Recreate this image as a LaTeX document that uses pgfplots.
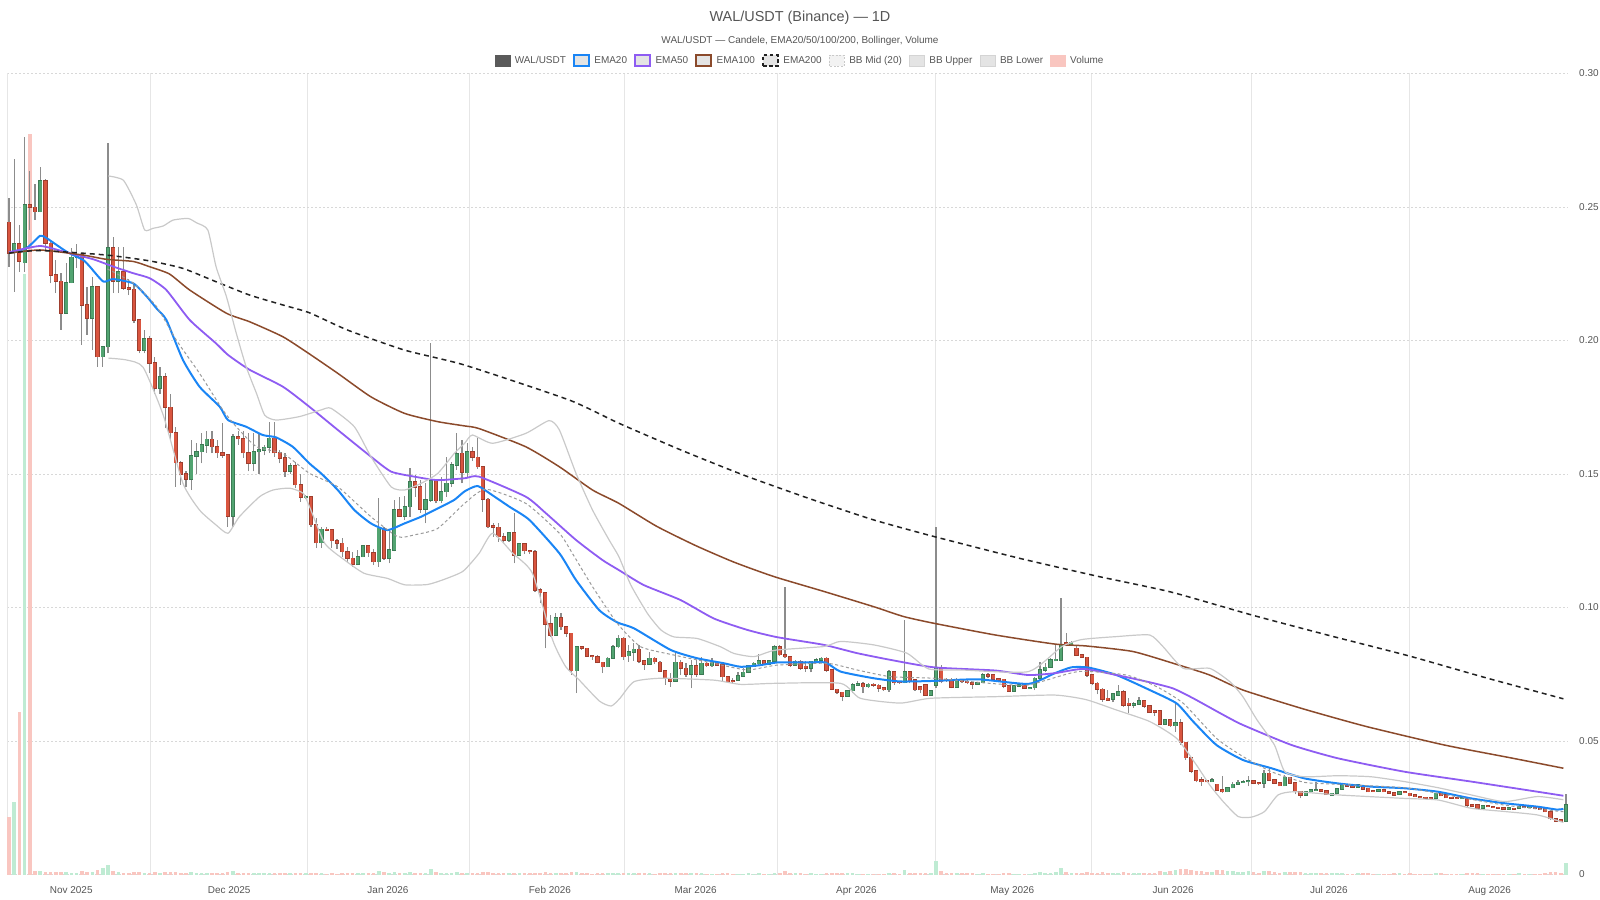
\documentclass[border=0pt]{standalone}
\usepackage{fontspec}
\setmainfont{Liberation Sans}
\usepackage{pgfplots}
\usepackage{pgfplotstable}
\pgfplotsset{compat=1.18}
\definecolor{upg}{HTML}{52A471}
\definecolor{upgd}{HTML}{3C7A54}
\definecolor{dnr}{HTML}{D9553F}
\definecolor{dnrd}{HTML}{9E3E2E}
\definecolor{wick}{HTML}{8C8C8C}
\definecolor{ema20c}{HTML}{1A85F5}
\definecolor{ema50c}{HTML}{8E5CF2}
\definecolor{ema100c}{HTML}{8B4A2B}
\definecolor{ema200c}{HTML}{222222}
\definecolor{bbmid}{HTML}{9A9A9A}
\definecolor{bbc}{HTML}{C9C9C9}
\definecolor{txt}{HTML}{555555}
\definecolor{volr}{HTML}{F9C6C0}
\definecolor{volg}{HTML}{BFEBD3}
\definecolor{gridv}{HTML}{E6E6E6}
\definecolor{gridh}{HTML}{D8D8D8}
\definecolor{legfill}{HTML}{E4E4E4}
\definecolor{legdark}{HTML}{5A5A5A}

\pgfplotstableread{
i o h l c v
0 0.2442 0.2533 0.2277 0.2327 0.0217
1 0.2329 0.2679 0.2183 0.2362 0.0270
2 0.2362 0.2433 0.2258 0.2296 0.0607
3 0.2292 0.2764 0.2258 0.2508 0.2250
4 0.2508 0.2633 0.2414 0.2499 0.2775
5 0.2499 0.2586 0.2452 0.2483 0.0012
6 0.2483 0.2648 0.2480 0.2599 0.0014
7 0.2599 0.2605 0.2339 0.2364 0.0010
8 0.2364 0.2370 0.2214 0.2246 0.0009
9 0.2246 0.2302 0.2177 0.2223 0.0008
10 0.2221 0.2252 0.2040 0.2102 0.0011
11 0.2102 0.2289 0.2100 0.2217 0.0008
12 0.2217 0.2346 0.2214 0.2311 0.0007
13 0.2311 0.2362 0.2271 0.2321 0.0007
14 0.2321 0.2327 0.1984 0.2133 0.0013
15 0.2133 0.2202 0.2021 0.2083 0.0009
16 0.2083 0.2239 0.1965 0.2202 0.0010
17 0.2202 0.2205 0.1902 0.1940 0.0015
18 0.1940 0.1980 0.1902 0.1977 0.0024
19 0.1977 0.2739 0.1952 0.2346 0.0034
20 0.2346 0.2389 0.2177 0.2221 0.0012
21 0.2221 0.2352 0.2177 0.2258 0.0008
22 0.2258 0.2352 0.2190 0.2196 0.0007
23 0.2196 0.2230 0.2170 0.2192 0.0006
24 0.2192 0.2214 0.2065 0.2077 0.0008
25 0.2077 0.2080 0.1952 0.1965 0.0009
26 0.1965 0.2040 0.1952 0.2006 0.0006
27 0.2006 0.2015 0.1877 0.1915 0.0007
28 0.1915 0.1940 0.1800 0.1821 0.0008
29 0.1821 0.1900 0.1800 0.1865 0.0006
30 0.1865 0.1877 0.1671 0.1750 0.0009
31 0.1750 0.1800 0.1627 0.1655 0.0008
32 0.1655 0.1677 0.1453 0.1543 0.0011
33 0.1543 0.1550 0.1459 0.1500 0.0007
34 0.1500 0.1510 0.1450 0.1480 0.0006
35 0.1480 0.1627 0.1440 0.1568 0.0008
36 0.1568 0.1615 0.1500 0.1584 0.0006
37 0.1584 0.1652 0.1540 0.1609 0.0005
38 0.1609 0.1660 0.1580 0.1630 0.0005
39 0.1630 0.1660 0.1578 0.1602 0.0005
40 0.1602 0.1627 0.1560 0.1580 0.0005
41 0.1580 0.1690 0.1560 0.1571 0.0006
42 0.1571 0.1575 0.1303 0.1343 0.0010
43 0.1343 0.1650 0.1303 0.1640 0.0012
44 0.1640 0.1660 0.1610 0.1632 0.0006
45 0.1632 0.1660 0.1560 0.1580 0.0005
46 0.1580 0.1652 0.1510 0.1540 0.0006
47 0.1540 0.1652 0.1510 0.1584 0.0005
48 0.1584 0.1652 0.1500 0.1590 0.0004
49 0.1590 0.1610 0.1570 0.1600 0.0004
50 0.1600 0.1696 0.1580 0.1634 0.0005
51 0.1634 0.1696 0.1565 0.1580 0.0005
52 0.1580 0.1590 0.1540 0.1560 0.0004
53 0.1560 0.1580 0.1490 0.1510 0.0005
54 0.1510 0.1540 0.1500 0.1530 0.0004
55 0.1530 0.1545 0.1446 0.1460 0.0005
56 0.1460 0.1500 0.1396 0.1413 0.0006
57 0.1413 0.1420 0.1405 0.1415 0.0004
58 0.1415 0.1418 0.1303 0.1310 0.0006
59 0.1310 0.1334 0.1222 0.1243 0.0006
60 0.1243 0.1303 0.1222 0.1293 0.0004
61 0.1293 0.1300 0.1285 0.1290 0.0003
62 0.1290 0.1295 0.1222 0.1250 0.0004
63 0.1250 0.1255 0.1220 0.1240 0.0003
64 0.1240 0.1259 0.1190 0.1209 0.0004
65 0.1209 0.1228 0.1165 0.1184 0.0004
66 0.1184 0.1209 0.1153 0.1163 0.0004
67 0.1163 0.1215 0.1159 0.1190 0.0004
68 0.1190 0.1234 0.1188 0.1230 0.0005
69 0.1230 0.1234 0.1190 0.1205 0.0004
70 0.1205 0.1220 0.1159 0.1172 0.0004
71 0.1172 0.1410 0.1153 0.1296 0.0013
72 0.1296 0.1303 0.1178 0.1184 0.0008
73 0.1184 0.1290 0.1165 0.1215 0.0005
74 0.1215 0.1403 0.1210 0.1365 0.0009
75 0.1365 0.1415 0.1340 0.1343 0.0006
76 0.1343 0.1418 0.1328 0.1378 0.0006
77 0.1378 0.1521 0.1340 0.1470 0.0008
78 0.1470 0.1496 0.1415 0.1452 0.0005
79 0.1452 0.1477 0.1353 0.1368 0.0006
80 0.1368 0.1465 0.1315 0.1403 0.0005
81 0.1403 0.1989 0.1396 0.1475 0.0019
82 0.1475 0.1483 0.1390 0.1400 0.0008
83 0.1400 0.1490 0.1390 0.1434 0.0005
84 0.1434 0.1565 0.1415 0.1465 0.0006
85 0.1465 0.1546 0.1452 0.1534 0.0006
86 0.1534 0.1655 0.1515 0.1575 0.0008
87 0.1577 0.1627 0.1465 0.1507 0.0006
88 0.1505 0.1615 0.1484 0.1584 0.0005
89 0.1584 0.1602 0.1550 0.1562 0.0004
90 0.1562 0.1633 0.1520 0.1527 0.0005
91 0.1527 0.1530 0.1359 0.1405 0.0008
92 0.1405 0.1409 0.1297 0.1303 0.0008
93 0.1305 0.1315 0.1265 0.1300 0.0005
94 0.1300 0.1315 0.1247 0.1265 0.0005
95 0.1265 0.1278 0.1240 0.1253 0.0004
96 0.1253 0.1284 0.1247 0.1280 0.0004
97 0.1280 0.1353 0.1165 0.1197 0.0007
98 0.1197 0.1243 0.1197 0.1238 0.0005
99 0.1238 0.1240 0.1200 0.1213 0.0004
100 0.1213 0.1215 0.1200 0.1209 0.0004
101 0.1209 0.1215 0.1059 0.1066 0.0007
102 0.1066 0.1072 0.1016 0.1056 0.0006
103 0.1056 0.1059 0.0847 0.0938 0.0010
104 0.0938 0.0972 0.0890 0.0897 0.0006
105 0.0897 0.0978 0.0897 0.0960 0.0006
106 0.0960 0.0978 0.0916 0.0928 0.0005
107 0.0928 0.0930 0.0890 0.0903 0.0004
108 0.0903 0.0905 0.0748 0.0764 0.0008
109 0.0764 0.0856 0.0679 0.0853 0.0009
110 0.0853 0.0856 0.0841 0.0847 0.0005
111 0.0847 0.0850 0.0814 0.0819 0.0004
112 0.0819 0.0822 0.0804 0.0816 0.0003
113 0.0816 0.0822 0.0791 0.0794 0.0004
114 0.0794 0.0796 0.0754 0.0779 0.0004
115 0.0779 0.0816 0.0779 0.0810 0.0004
116 0.0810 0.0860 0.0808 0.0853 0.0005
117 0.0853 0.0897 0.0847 0.0885 0.0005
118 0.0884 0.0890 0.0803 0.0816 0.0005
119 0.0820 0.0860 0.0797 0.0834 0.0004
120 0.0834 0.0866 0.0800 0.0843 0.0004
121 0.0843 0.0860 0.0791 0.0800 0.0004
122 0.0800 0.0803 0.0766 0.0787 0.0004
123 0.0787 0.0834 0.0785 0.0810 0.0004
124 0.0810 0.0815 0.0790 0.0797 0.0003
125 0.0795 0.0798 0.0757 0.0762 0.0004
126 0.0762 0.0765 0.0710 0.0735 0.0005
127 0.0735 0.0753 0.0703 0.0725 0.0004
128 0.0725 0.0828 0.0722 0.0795 0.0006
129 0.0795 0.0803 0.0747 0.0772 0.0004
130 0.0772 0.0791 0.0741 0.0750 0.0004
131 0.0750 0.0803 0.0697 0.0782 0.0005
132 0.0782 0.0803 0.0741 0.0750 0.0004
133 0.0750 0.0816 0.0748 0.0791 0.0004
134 0.0791 0.0797 0.0778 0.0782 0.0003
135 0.0782 0.0810 0.0779 0.0795 0.0003
136 0.0795 0.0800 0.0780 0.0784 0.0003
137 0.0784 0.0787 0.0722 0.0741 0.0005
138 0.0741 0.0745 0.0719 0.0722 0.0004
139 0.0725 0.0735 0.0716 0.0722 0.0003
140 0.0728 0.0760 0.0725 0.0744 0.0003
141 0.0744 0.0772 0.0740 0.0757 0.0003
142 0.0757 0.0784 0.0753 0.0781 0.0004
143 0.0781 0.0797 0.0778 0.0791 0.0003
144 0.0790 0.0824 0.0784 0.0801 0.0004
145 0.0800 0.0803 0.0785 0.0788 0.0003
146 0.0788 0.0802 0.0785 0.0799 0.0003
147 0.0799 0.0859 0.0790 0.0853 0.0006
148 0.0853 0.0858 0.0818 0.0823 0.0005
149 0.0823 0.1078 0.0810 0.0816 0.0013
150 0.0816 0.0820 0.0779 0.0785 0.0006
151 0.0785 0.0804 0.0780 0.0798 0.0004
152 0.0798 0.0804 0.0766 0.0773 0.0004
153 0.0780 0.0798 0.0760 0.0773 0.0003
154 0.0773 0.0800 0.0757 0.0798 0.0004
155 0.0798 0.0810 0.0795 0.0804 0.0003
156 0.0804 0.0816 0.0800 0.0810 0.0003
157 0.0810 0.0815 0.0760 0.0766 0.0004
158 0.0766 0.0768 0.0691 0.0694 0.0007
159 0.0694 0.0696 0.0676 0.0682 0.0005
160 0.0682 0.0685 0.0648 0.0669 0.0005
161 0.0669 0.0691 0.0667 0.0689 0.0004
162 0.0689 0.0716 0.0679 0.0710 0.0004
163 0.0710 0.0723 0.0707 0.0714 0.0003
164 0.0714 0.0720 0.0679 0.0704 0.0003
165 0.0704 0.0716 0.0700 0.0712 0.0003
166 0.0712 0.0716 0.0703 0.0708 0.0003
167 0.0708 0.0712 0.0685 0.0698 0.0003
168 0.0698 0.0700 0.0688 0.0692 0.0003
169 0.0692 0.0766 0.0685 0.0760 0.0006
170 0.0760 0.0762 0.0710 0.0719 0.0005
171 0.0722 0.0725 0.0715 0.0719 0.0003
172 0.0719 0.0954 0.0716 0.0760 0.0018
173 0.0760 0.0762 0.0716 0.0723 0.0006
174 0.0729 0.0731 0.0689 0.0692 0.0004
175 0.0704 0.0707 0.0679 0.0692 0.0004
176 0.0710 0.0712 0.0669 0.0673 0.0004
177 0.0673 0.0692 0.0670 0.0689 0.0004
178 0.0710 0.1300 0.0700 0.0776 0.0050
179 0.0776 0.0785 0.0716 0.0722 0.0012
180 0.0731 0.0735 0.0722 0.0726 0.0007
181 0.0731 0.0735 0.0697 0.0701 0.0006
182 0.0701 0.0735 0.0699 0.0731 0.0004
183 0.0731 0.0734 0.0718 0.0722 0.0004
184 0.0722 0.0729 0.0713 0.0719 0.0004
185 0.0719 0.0722 0.0694 0.0714 0.0004
186 0.0714 0.0722 0.0710 0.0719 0.0003
187 0.0719 0.0754 0.0717 0.0747 0.0004
188 0.0747 0.0756 0.0735 0.0744 0.0003
189 0.0747 0.0750 0.0729 0.0732 0.0003
190 0.0732 0.0735 0.0725 0.0729 0.0003
191 0.0731 0.0733 0.0697 0.0706 0.0004
192 0.0706 0.0708 0.0685 0.0687 0.0004
193 0.0687 0.0708 0.0685 0.0706 0.0003
194 0.0706 0.0712 0.0703 0.0710 0.0003
195 0.0710 0.0712 0.0694 0.0697 0.0003
196 0.0697 0.0703 0.0694 0.0700 0.0003
197 0.0700 0.0741 0.0691 0.0735 0.0006
198 0.0735 0.0797 0.0729 0.0766 0.0008
199 0.0766 0.0791 0.0760 0.0776 0.0006
200 0.0776 0.0810 0.0774 0.0803 0.0007
201 0.0801 0.0859 0.0798 0.0806 0.0008
202 0.0803 0.1034 0.0801 0.0859 0.0025
203 0.0868 0.0903 0.0855 0.0859 0.0010
204 0.0859 0.0875 0.0855 0.0868 0.0006
205 0.0847 0.0859 0.0818 0.0822 0.0007
206 0.0822 0.0825 0.0810 0.0813 0.0005
207 0.0813 0.0815 0.0740 0.0747 0.0009
208 0.0747 0.0750 0.0708 0.0716 0.0007
209 0.0716 0.0722 0.0675 0.0694 0.0006
210 0.0694 0.0697 0.0647 0.0657 0.0008
211 0.0660 0.0691 0.0650 0.0654 0.0005
212 0.0657 0.0679 0.0645 0.0676 0.0005
213 0.0672 0.0710 0.0670 0.0685 0.0006
214 0.0685 0.0690 0.0629 0.0633 0.0008
215 0.0641 0.0662 0.0604 0.0635 0.0007
216 0.0635 0.0645 0.0625 0.0639 0.0005
217 0.0639 0.0666 0.0636 0.0650 0.0005
218 0.0650 0.0653 0.0625 0.0631 0.0006
219 0.0631 0.0634 0.0604 0.0607 0.0007
220 0.0612 0.0615 0.0595 0.0607 0.0006
221 0.0612 0.0615 0.0560 0.0563 0.0012
222 0.0563 0.0583 0.0561 0.0579 0.0010
223 0.0579 0.0583 0.0554 0.0558 0.0012
224 0.0558 0.0641 0.0535 0.0567 0.0018
225 0.0567 0.0583 0.0485 0.0495 0.0022
226 0.0495 0.0497 0.0429 0.0438 0.0020
227 0.0438 0.0440 0.0379 0.0388 0.0016
228 0.0388 0.0390 0.0345 0.0352 0.0014
229 0.0355 0.0367 0.0333 0.0348 0.0012
230 0.0352 0.0355 0.0345 0.0348 0.0009
231 0.0348 0.0363 0.0345 0.0354 0.0010
232 0.0338 0.0340 0.0314 0.0317 0.0015
233 0.0317 0.0370 0.0305 0.0310 0.0018
234 0.0310 0.0327 0.0308 0.0325 0.0012
235 0.0325 0.0348 0.0323 0.0338 0.0014
236 0.0338 0.0354 0.0336 0.0345 0.0011
237 0.0345 0.0355 0.0343 0.0348 0.0010
238 0.0348 0.0370 0.0330 0.0350 0.0013
239 0.0350 0.0355 0.0338 0.0342 0.0008
240 0.0342 0.0345 0.0335 0.0340 0.0007
241 0.0342 0.0391 0.0323 0.0379 0.0014
242 0.0379 0.0398 0.0350 0.0354 0.0013
243 0.0354 0.0356 0.0340 0.0342 0.0008
244 0.0342 0.0344 0.0330 0.0333 0.0007
245 0.0333 0.0373 0.0330 0.0364 0.0010
246 0.0364 0.0366 0.0340 0.0342 0.0008
247 0.0342 0.0344 0.0300 0.0310 0.0011
248 0.0310 0.0312 0.0285 0.0298 0.0008
249 0.0298 0.0312 0.0296 0.0310 0.0006
250 0.0310 0.0319 0.0308 0.0317 0.0005
251 0.0317 0.0345 0.0315 0.0318 0.0006
252 0.0316 0.0318 0.0311 0.0313 0.0004
253 0.0313 0.0314 0.0298 0.0300 0.0005
254 0.0296 0.0306 0.0294 0.0304 0.0004
255 0.0304 0.0322 0.0302 0.0320 0.0005
256 0.0320 0.0337 0.0318 0.0335 0.0005
257 0.0334 0.0336 0.0329 0.0331 0.0003
258 0.0331 0.0333 0.0326 0.0328 0.0003
259 0.0326 0.0337 0.0324 0.0335 0.0004
260 0.0329 0.0331 0.0318 0.0320 0.0004
261 0.0323 0.0325 0.0308 0.0310 0.0005
262 0.0314 0.0316 0.0311 0.0313 0.0003
263 0.0313 0.0318 0.0311 0.0316 0.0003
264 0.0316 0.0318 0.0308 0.0310 0.0003
265 0.0310 0.0312 0.0303 0.0305 0.0003
266 0.0305 0.0307 0.0296 0.0298 0.0004
267 0.0301 0.0312 0.0299 0.0310 0.0004
268 0.0310 0.0312 0.0304 0.0306 0.0003
269 0.0304 0.0306 0.0293 0.0295 0.0004
270 0.0298 0.0300 0.0290 0.0292 0.0003
271 0.0291 0.0293 0.0286 0.0288 0.0003
272 0.0289 0.0291 0.0283 0.0285 0.0003
273 0.0287 0.0289 0.0281 0.0283 0.0003
274 0.0285 0.0306 0.0283 0.0304 0.0005
275 0.0304 0.0306 0.0293 0.0295 0.0004
276 0.0298 0.0300 0.0286 0.0288 0.0003
277 0.0289 0.0291 0.0285 0.0287 0.0003
278 0.0287 0.0289 0.0284 0.0286 0.0003
279 0.0285 0.0289 0.0283 0.0287 0.0003
280 0.0287 0.0290 0.0254 0.0260 0.0006
281 0.0260 0.0262 0.0254 0.0256 0.0004
282 0.0260 0.0262 0.0246 0.0248 0.0004
283 0.0248 0.0259 0.0246 0.0257 0.0003
284 0.0257 0.0259 0.0252 0.0254 0.0003
285 0.0254 0.0256 0.0250 0.0252 0.0003
286 0.0252 0.0254 0.0246 0.0248 0.0003
287 0.0249 0.0251 0.0243 0.0245 0.0003
288 0.0246 0.0251 0.0244 0.0249 0.0003
289 0.0248 0.0250 0.0242 0.0244 0.0003
290 0.0248 0.0256 0.0246 0.0254 0.0004
291 0.0254 0.0256 0.0249 0.0251 0.0003
292 0.0251 0.0255 0.0249 0.0253 0.0003
293 0.0253 0.0255 0.0246 0.0248 0.0003
294 0.0248 0.0250 0.0243 0.0245 0.0003
295 0.0248 0.0250 0.0233 0.0235 0.0006
296 0.0235 0.0237 0.0204 0.0210 0.0009
297 0.0208 0.0210 0.0198 0.0200 0.0008
298 0.0204 0.0206 0.0195 0.0201 0.0007
299 0.0201 0.0300 0.0196 0.0260 0.0042
}\candles

\pgfplotstableread{
x y
0 0.2330
3.4 0.2346
6 0.2392
7.3 0.2383
11.1 0.2333
14.3 0.2302
15.6 0.2277
18.2 0.2221
20.1 0.2230
24 0.2214
26.6 0.2165
28.5 0.2120
30.4 0.2077
33.6 0.1927
36.8 0.1827
40.7 0.1752
42.3 0.1702
45.8 0.1677
49 0.1646
51.6 0.1637
54.8 0.1602
58 0.1540
60.3 0.1502
63.5 0.1440
66.7 0.1365
69.9 0.1315
73.1 0.1290
76.4 0.1315
79.6 0.1340
82.8 0.1371
86 0.1403
88 0.1435
90.5 0.1455
93.4 0.1420
96.6 0.1378
100.5 0.1328
106.3 0.1203
109.5 0.1103
114 0.0990
117.5 0.0944
120.7 0.0922
127.8 0.0841
132.9 0.0810
138.1 0.0791
141.3 0.0778
145.1 0.0784
148.3 0.0794
154.1 0.0794
157.7 0.0794
160.6 0.0760
167 0.0735
172.1 0.0723
178.6 0.0725
187.2 0.0731
196.9 0.0714
202 0.0754
205.2 0.0776
208.5 0.0775
213.9 0.0747
220.3 0.0691
225.5 0.0641
228.7 0.0573
233.2 0.0485
238.3 0.0429
243.8 0.0398
250.2 0.0360
256.7 0.0341
263.1 0.0329
269.5 0.0323
276 0.0310
282.4 0.0285
288.8 0.0267
295.2 0.0254
299 0.0243
300.2 0.0246
}\emaA

\pgfplotstableread{
x y
0 0.2330
6 0.2354
11.1 0.2330
16.3 0.2304
20.1 0.2277
24 0.2252
27.2 0.2233
30.4 0.2189
34.9 0.2077
40 0.1989
42.3 0.1946
46.5 0.1890
52.9 0.1827
58 0.1752
63.5 0.1665
69.9 0.1565
73.8 0.1509
78.3 0.1490
82.8 0.1477
88 0.1484
90.8 0.1490
99.8 0.1415
103.7 0.1353
109.5 0.1253
114.6 0.1178
117.8 0.1140
122.6 0.1084
129.7 0.1028
136.1 0.0959
142.6 0.0916
148.3 0.0889
157.4 0.0860
163.8 0.0829
170.2 0.0804
178.6 0.0776
190.5 0.0764
196.9 0.0747
202 0.0754
207.5 0.0770
213.9 0.0747
220.3 0.0720
224.8 0.0697
228.7 0.0660
234.5 0.0598
238.3 0.0560
247.7 0.0485
256.7 0.0435
269.5 0.0385
282.4 0.0348
295.2 0.0310
300.2 0.0295
}\emaB

\pgfplotstableread{
x y
0 0.2327
6 0.2339
14.3 0.2320
18.8 0.2304
24 0.2296
27.2 0.2276
31 0.2249
34.9 0.2189
42 0.2102
46.5 0.2070
52.9 0.2014
58 0.1950
63.5 0.1877
69.9 0.1789
76.4 0.1727
82.8 0.1696
88 0.1680
90.8 0.1670
99.8 0.1602
106.3 0.1527
112.7 0.1440
117.8 0.1390
125 0.1305
132.6 0.1232
140 0.1170
147.7 0.1116
157.4 0.1060
167 0.1003
172.8 0.0966
178.6 0.0941
190.5 0.0897
202 0.0863
208 0.0856
217.1 0.0835
225.5 0.0787
231.9 0.0747
238.3 0.0691
250 0.0620
262 0.0555
277.2 0.0485
290 0.0437
300.2 0.0398
}\emaC

\pgfplotstableread{
x y
0 0.2327
6 0.2337
18.8 0.2320
27.2 0.2298
33.6 0.2270
40 0.2220
46.5 0.2170
52.9 0.2133
58 0.2104
65.4 0.2039
76.4 0.1964
88 0.1908
108.2 0.1777
117.8 0.1690
130 0.1588
142 0.1495
155 0.1405
167 0.1328
178.6 0.1266
195 0.1185
210 0.1118
224.4 0.1058
240 0.0972
255 0.0895
270.5 0.0818
285 0.0738
300.2 0.0658
}\emaD

\pgfplotstableread{
x y
19 0.2268
24 0.2215
28.5 0.2127
32.3 0.2002
36.8 0.1877
41.3 0.1740
43.9 0.1677
47.8 0.1602
52.9 0.1577
58 0.1503
63.5 0.1452
69.9 0.1340
75.1 0.1265
78.3 0.1272
82.8 0.1296
88 0.1390
92.1 0.1443
99.8 0.1390
106.3 0.1278
108.8 0.1203
112.7 0.1078
117.5 0.0940
122 0.0853
128.4 0.0822
136.1 0.0791
142.6 0.0766
148.3 0.0784
158 0.0791
163.8 0.0766
170.2 0.0741
178.6 0.0735
190 0.0715
196.9 0.0710
206.5 0.0760
215.8 0.0747
221.6 0.0704
226.8 0.0641
233.2 0.0510
238.3 0.0442
243.8 0.0385
250.2 0.0345
256.7 0.0338
269.5 0.0325
276 0.0304
288.8 0.0260
300.2 0.0235
}\bbM

\pgfplotstableread{
x y
19.2 0.2616
22.1 0.2600
24.6 0.2508
26.2 0.2414
27.8 0.2420
29.8 0.2429
31.7 0.2451
34.6 0.2457
36.2 0.2441
38.4 0.2414
40 0.2276
42 0.2164
43.9 0.2027
45.8 0.1902
47.8 0.1802
49.4 0.1720
51.6 0.1702
56.1 0.1715
60.3 0.1740
62.2 0.1746
66.7 0.1677
69.9 0.1565
73.8 0.1452
76.4 0.1440
79.6 0.1465
82.8 0.1502
86 0.1577
88 0.1615
89.5 0.1646
93.4 0.1615
99.8 0.1652
104.3 0.1700
106.3 0.1665
109.5 0.1503
112.7 0.1365
115.9 0.1253
117.8 0.1190
120.1 0.1084
123.3 0.0978
125.9 0.0916
128.4 0.0890
132.9 0.0884
137.4 0.0853
140 0.0828
143.9 0.0816
148 0.0840
157.4 0.0854
160.6 0.0873
167 0.0860
173.4 0.0829
177.6 0.0770
184 0.0766
196.9 0.0760
203.3 0.0853
207.2 0.0880
213.9 0.0891
220.3 0.0897
222.9 0.0853
226.8 0.0772
231.9 0.0772
235.8 0.0722
238.3 0.0666
241 0.0580
244.4 0.0485
246.4 0.0385
250.2 0.0366
256.7 0.0370
263.1 0.0366
269.5 0.0348
276 0.0325
282.4 0.0298
288.8 0.0273
295.2 0.0292
300.2 0.0280
}\bbU

\pgfplotstableread{
x y
19.2 0.1934
22.7 0.1927
25.9 0.1900
29.8 0.1720
33.6 0.1465
36.8 0.1365
40 0.1309
42.3 0.1278
44.5 0.1340
48.4 0.1415
51 0.1440
54.2 0.1447
56.8 0.1428
58 0.1380
61 0.1240
64.8 0.1178
68.6 0.1128
73.1 0.1109
76.4 0.1085
80.8 0.1086
84 0.1105
87.7 0.1136
90.8 0.1203
93.4 0.1278
97.3 0.1203
101.1 0.1128
105 0.0878
107.5 0.0779
110.1 0.0729
114 0.0650
116.3 0.0631
118 0.0660
120.7 0.0722
125.9 0.0735
136.1 0.0728
141.3 0.0712
148 0.0716
160.6 0.0716
164.4 0.0660
172.1 0.0642
178 0.0660
190.5 0.0666
202 0.0672
208 0.0655
213.9 0.0616
220.3 0.0573
225.5 0.0510
229.3 0.0411
231.9 0.0335
234.5 0.0273
237.4 0.0217
240 0.0215
242.5 0.0236
245.1 0.0298
248.3 0.0310
256.7 0.0298
269.5 0.0285
276 0.0279
282.4 0.0248
288.8 0.0236
295.2 0.0223
300.2 0.0195
}\bbL

\begin{document}
\begin{tikzpicture}
\begin{axis}[
  at={(7bp,25.5bp)}, anchor=south west,
  width=1561bp, height=801bp, scale only axis,
  xmin=-0.38, xmax=299.38, ymin=0, ymax=0.30,
  axis line style={draw=none},
  major tick length=0pt, minor tick length=0pt,
  xtick={11.96,42.28,72.78,103.88,131.85,162.74,192.67,223.56,253.47,284.34},
  xticklabels={Nov 2025,Dec 2025,Jan 2026,Feb 2026,Mar 2026,Apr 2026,May 2026,Jun 2026,Jul 2026,Aug 2026},
  minor xtick={27.17,57.38,88.39,118.1,147.6,178.0,207.8,238.5,269.0},
  xminorgrids=true, xmajorgrids=false,
  minor x grid style={draw=gridv, line width=0.9bp},
  ytick={0,0.05,0.1,0.15,0.2,0.25,0.3},
  yticklabels={0,0.05,0.10,0.15,0.20,0.25,0.30},
  yticklabel pos=right,
  ymajorgrids=true,
  major y grid style={draw=gridh, line width=0.8bp, dash pattern=on 1.5bp off 2.5bp},
  tick label style={font=\fontsize{10}{12}\selectfont, text=txt},
  yticklabel style={anchor=west, inner sep=0pt, xshift=11bp},
  xticklabel style={anchor=north, inner sep=0pt, yshift=-12bp},
  legend columns=-1,
  legend cell align=left,
  legend style={at={(0.508,1)}, anchor=center, yshift=12.8bp, draw=none, fill=none,
    font=\fontsize{10}{12}\selectfont, text=txt,
    /tikz/every odd column/.append style={column sep=2.5bp},
    /tikz/every even column/.append style={column sep=5bp}},
]
\draw[gridv, line width=0.9bp] (rel axis cs:0,0) -- (rel axis cs:0,1);

% legend entries
\addlegendimage{legend image code/.code={\draw[fill=legdark,draw=legdark,line width=0.8bp] (0bp,-5.5bp) rectangle (15bp,5.5bp);}}
\addlegendentry{WAL/USDT}
\addlegendimage{legend image code/.code={\draw[fill=legfill,draw=ema20c,line width=2bp] (0bp,-5.5bp) rectangle (15bp,5.5bp);}}
\addlegendentry{EMA20}
\addlegendimage{legend image code/.code={\draw[fill=legfill,draw=ema50c,line width=2bp] (0bp,-5.5bp) rectangle (15bp,5.5bp);}}
\addlegendentry{EMA50}
\addlegendimage{legend image code/.code={\draw[fill=legfill,draw=ema100c,line width=2bp] (0bp,-5.5bp) rectangle (15bp,5.5bp);}}
\addlegendentry{EMA100}
\addlegendimage{legend image code/.code={\draw[fill=legfill,draw=ema200c,line width=2bp,dash pattern=on 3.5bp off 2.5bp] (0bp,-5.5bp) rectangle (15bp,5.5bp);}}
\addlegendentry{EMA200}
\addlegendimage{legend image code/.code={\draw[fill=legfill!50!white,draw=bbc,line width=1.2bp,dash pattern=on 2bp off 1.5bp] (0bp,-5.5bp) rectangle (15bp,5.5bp);}}
\addlegendentry{BB Mid (20)}
\addlegendimage{legend image code/.code={\draw[fill=legfill,draw=bbc!80!white,line width=1bp] (0bp,-5.5bp) rectangle (15bp,5.5bp);}}
\addlegendentry{BB Upper}
\addlegendimage{legend image code/.code={\draw[fill=legfill,draw=bbc!80!white,line width=1bp] (0bp,-5.5bp) rectangle (15bp,5.5bp);}}
\addlegendentry{BB Lower}
\addlegendimage{legend image code/.code={\draw[fill=volr,draw=volr,line width=0.5bp] (0bp,-5.5bp) rectangle (15bp,5.5bp);}}
\addlegendentry{Volume}

% volume
\addplot[forget plot, draw=volr, line width=3.6bp, quiver={u=0, v={\thisrow{v}}},
  restrict expr to domain={\thisrow{c}-\thisrow{o}}{-1:-0.00000001}]
  table[x=i, y expr={0}] {\candles};
\addplot[forget plot, draw=volg, line width=3.6bp, quiver={u=0, v={\thisrow{v}}},
  restrict expr to domain={\thisrow{c}-\thisrow{o}}{0:1}]
  table[x=i, y expr={0}] {\candles};

% wicks
\addplot[forget plot, draw=wick, line width=1.2bp, quiver={u=0, v={\thisrow{h}-\thisrow{l}}}]
  table[x=i, y=l] {\candles};

% bodies (outline then fill)
\addplot[forget plot, draw=upgd, line width=4.2bp, quiver={u=0, v={abs(\thisrow{c}-\thisrow{o})+0.00052}},
  restrict expr to domain={\thisrow{c}-\thisrow{o}}{0:1}]
  table[x=i, y expr={min(\thisrow{o},\thisrow{c})-0.00026}] {\candles};
\addplot[forget plot, draw=upg, line width=2.8bp, quiver={u=0, v={abs(\thisrow{c}-\thisrow{o})}},
  restrict expr to domain={\thisrow{c}-\thisrow{o}}{0:1}]
  table[x=i, y expr={min(\thisrow{o},\thisrow{c})}] {\candles};
\addplot[forget plot, draw=dnrd, line width=4.2bp, quiver={u=0, v={abs(\thisrow{c}-\thisrow{o})+0.00052}},
  restrict expr to domain={\thisrow{c}-\thisrow{o}}{-1:-0.00000001}]
  table[x=i, y expr={min(\thisrow{o},\thisrow{c})-0.00026}] {\candles};
\addplot[forget plot, draw=dnr, line width=2.8bp, quiver={u=0, v={abs(\thisrow{c}-\thisrow{o})}},
  restrict expr to domain={\thisrow{c}-\thisrow{o}}{-1:-0.00000001}]
  table[x=i, y expr={min(\thisrow{o},\thisrow{c})}] {\candles};

% indicator lines
\addplot[forget plot, draw=ema20c, line width=2bp, smooth, tension=0.35] table[x expr={\thisrow{x}*0.9943}, y=y] {\emaA};
\addplot[forget plot, draw=ema50c, line width=1.8bp, smooth, tension=0.35] table[x expr={\thisrow{x}*0.9943}, y=y] {\emaB};
\addplot[forget plot, draw=ema100c, line width=1.5bp, smooth, tension=0.35] table[x expr={\thisrow{x}*0.9943}, y=y] {\emaC};
\addplot[forget plot, draw=ema200c, line width=1.5bp, smooth, tension=0.35, dash pattern=on 5bp off 4bp] table[x expr={\thisrow{x}*0.9943}, y=y] {\emaD};
\addplot[forget plot, draw=bbmid, line width=1bp, smooth, tension=0.35, dash pattern=on 3bp off 2.5bp] table[x expr={\thisrow{x}*0.9943}, y=y] {\bbM};
\addplot[forget plot, draw=bbc, line width=1.2bp, smooth, tension=0.35] table[x expr={\thisrow{x}*0.9943}, y=y] {\bbU};
\addplot[forget plot, draw=bbc, line width=1.2bp, smooth, tension=0.35] table[x expr={\thisrow{x}*0.9943}, y=y] {\bbL};
\end{axis}
\node[font=\fontsize{14.5}{17}\selectfont, text=txt] at (800bp,882.2bp) {WAL/USDT (Binance) — 1D};
\node[font=\fontsize{10}{12}\selectfont, text=txt] at (800bp,858.7bp) {WAL/USDT — Candele, EMA20/50/100/200, Bollinger, Volume};
\pgfresetboundingbox
\path[use as bounding box] (0,0) rectangle (1600bp,900bp);
\end{tikzpicture}
\end{document}
